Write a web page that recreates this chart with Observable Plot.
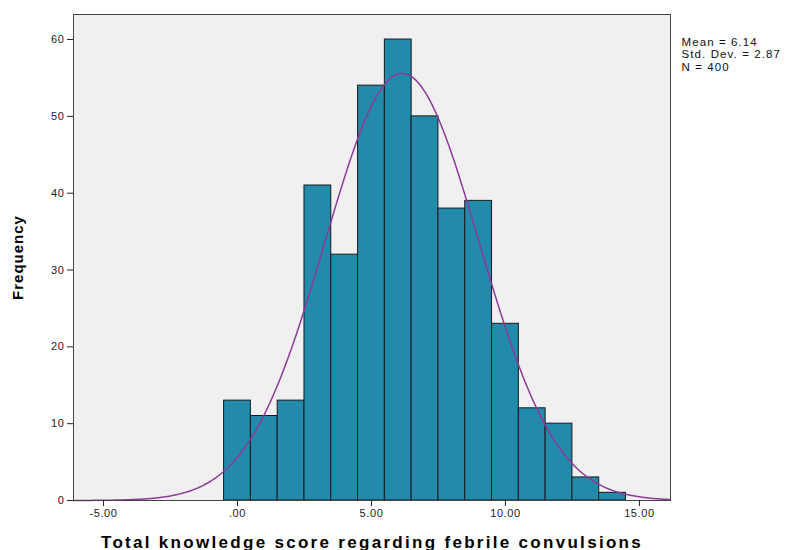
<!DOCTYPE html>
<html>
<head>
<meta charset="utf-8">
<script src="https://cdn.jsdelivr.net/npm/d3@7"></script>
<script src="https://cdn.jsdelivr.net/npm/@observablehq/plot@0.6"></script>
<style>
  html, body { margin: 0; padding: 0; background: #fff; }
  #chart svg { font-family: "Liberation Sans", Arial, sans-serif; }
</style>
</head>
<body>
<div id="chart"></div>
<script>
// Data
const scores = [0, 1, 2, 3, 4, 5, 6, 7, 8, 9, 10, 11, 12, 13, 14];
const frequencies = [13, 11, 13, 41, 32, 54, 60, 50, 38, 39, 23, 12, 10, 3, 1];
const xTicks = [-5, 0, 5, 10, 15];
const yTicks = [0, 10, 20, 30, 40, 50, 60];
const stats = { mean: 6.14, sd: 2.87, n: 400 };
const statLines = ["Mean = 6.14", "Std. Dev. = 2.87", "N = 400"];

const bars = scores.map((s, i) => ({ x1: s - 0.5, x2: s + 0.5, y: frequencies[i] }));

// Fitted normal curve (from the stated mean, SD, N, bin width 1)
const xDomain = [-6.12, 16.16];
const curve = d3.range(0, 401).map(i => {
  const x = xDomain[0] + (xDomain[1] - xDomain[0]) * i / 400;
  const z = (x - stats.mean) / stats.sd;
  return { x, y: stats.n * Math.exp(-0.5 * z * z) / (stats.sd * Math.sqrt(2 * Math.PI)) };
});

const fmtX = d => d === 0 ? ".00" : d.toFixed(2);

const chart = Plot.plot({
  width: 792,
  height: 550,
  marginLeft: 73,
  marginRight: 122,
  marginTop: 14,
  marginBottom: 50,
  x: { domain: xDomain },
  y: { domain: [0, 63.26] },
  style: { fontSize: "11px", color: "#222", background: "#fff" },
  marks: [
    Plot.frame({ fill: "#f0f0f0", stroke: null }),
    Plot.rectY(bars, { x1: "x1", x2: "x2", y: "y", fill: "#228aab", stroke: "#1a1a1a", strokeWidth: 1, insetLeft: 0, insetRight: 0 }),
    Plot.line(curve, { x: "x", y: "y", stroke: "#8e3a98", strokeWidth: 1.5 }),
    Plot.frame({ stroke: "#444", strokeWidth: 1 }),
    Plot.axisX({ ticks: xTicks, tickFormat: fmtX, tickSize: 6, tickPadding: 3, label: "Total knowledge score regarding febrile convulsions", labelAnchor: "center", labelOffset: 47, labelArrow: "none" }),
    Plot.axisY({ ticks: yTicks, tickSize: 6, tickPadding: 3, label: "Frequency", labelAnchor: "center", labelOffset: 61, labelArrow: "none" }),
    Plot.text([statLines.join("\n")], { frameAnchor: "top-right", dx: 11, dy: 23, textAnchor: "start", lineAnchor: "top", fontSize: 11.5, fill: "#111", lineHeight: 1.06 })
  ]
});

document.getElementById("chart").appendChild(chart);

const svg = d3.select(chart);
svg.selectAll("[aria-label='x-axis label'] text, [aria-label='x-axis label']")
  .style("font-weight", "bold").style("font-size", "17px").style("letter-spacing", "2.3px").attr("fill", "#000");
svg.selectAll("[aria-label='y-axis label'] text, [aria-label='y-axis label']")
  .style("font-weight", "bold").style("font-size", "15px").style("letter-spacing", "1px").attr("fill", "#000");
svg.selectAll("[aria-label='x-axis tick label'] text, [aria-label='y-axis tick label'] text")
  .style("letter-spacing", "0.6px");
svg.selectAll("[aria-label='text'] text").style("letter-spacing", "1.1px");
</script>
</body>
</html>
